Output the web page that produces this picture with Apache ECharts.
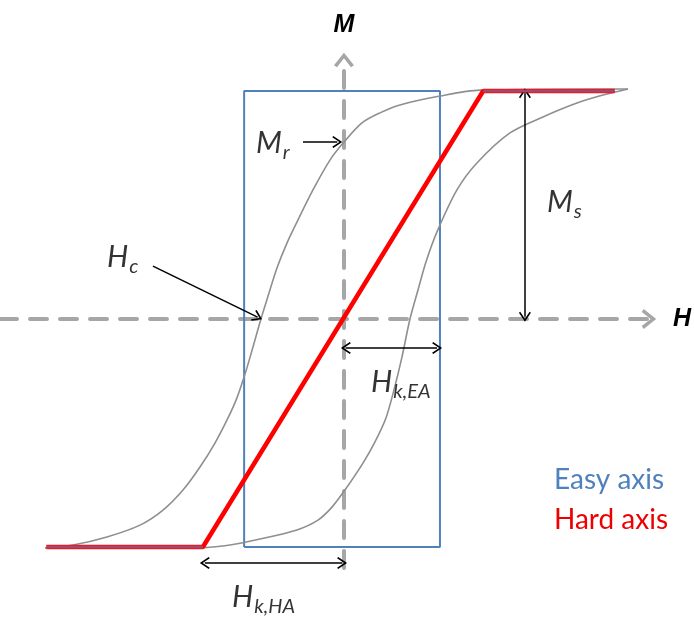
<!DOCTYPE html>
<html>
<head>
<meta charset="utf-8" />
<script src="https://cdn.jsdelivr.net/npm/echarts@6/dist/echarts.min.js"></script>
<style type="text/css">
	html, body, #main {
	width: 100%;
	height: 100%;
	margin: 0;
	background: #fff;
}
</style>
</head>
<body>
<div id="main"></div>
<script>
// H in units of Hk,EA ; M in units of Ms
var easyH = [-1.04, -1.04, 1.0, 1.0, -1.04];
var easyM = [-1, 1, 1, -1, -1];

var hardH = [-3.1, -1.47, 1.45, 2.82];
var hardM = [-1, -1, 1, 1];

// branch coming down from +Ms (passes Mr and -Hc)
var upperH = [-3.115, -2.823, -2.469, -2.125, -1.885, -1.677, -1.5, -1.344, -1.208, -1.115, -1.021, -0.948, -0.865, -0.781, -0.698, -0.594, -0.49, -0.323, -0.146, 0, 0.1875, 0.375, 0.583, 1.0, 1.417, 2.958];
var upperM = [-1.004, -0.991, -0.956, -0.904, -0.838, -0.75, -0.649, -0.544, -0.434, -0.346, -0.228, -0.123, 0, 0.114, 0.224, 0.333, 0.425, 0.566, 0.697, 0.776, 0.86, 0.904, 0.939, 0.978, 1.004, 1.009];

// branch going up from -Ms
var lowerH = [-1.5, -1.1875, -0.875, -0.49, -0.271, -0.125, 0.01, 0.198, 0.323, 0.4375, 0.521, 0.604, 0.6875, 0.771, 0.854, 0.969, 1.177, 1.385, 1.729, 2.073, 2.427, 2.698, 2.958];
var lowerM = [-1.004, -0.991, -0.965, -0.925, -0.882, -0.825, -0.75, -0.632, -0.539, -0.434, -0.311, -0.167, 0, 0.127, 0.25, 0.382, 0.566, 0.684, 0.816, 0.886, 0.947, 0.982, 1.009];

// annotation arrows: [H1, M1, H2, M2, double-headed]
var arrows = [
	[-0.427, 0.776, -0.07, 0.776, false],   // Mr
	[-1.99, 0.232, -0.9, 0.008, false],     // Hc
	[1.885, 0.01, 1.885, 0.99, true],       // Ms
	[0.02, -0.127, 0.97, -0.127, true],     // Hk,EA
	[-1.45, -1.07, -0.02, -1.07, true]      // Hk,HA
];

var labelText = ['{a|M}{b|r}', '{a|H}{b|c}', '{a|M}{b|s}', '{a|H}{b|k,EA}', '{a|H}{b|k,HA}'];
var labelH = [-0.917, -2.469, 2.115, 0.281, -1.167];
var labelM = [0.772, 0.272, 0.513, -0.276, -1.219];

// layout (pixels)
var OX = 344, OY = 319, UX = 96, UY = 228;
var G_LEFT = 0, G_RIGHT = 649, G_TOP = 60, G_BOTTOM = 568;

function pairs(xs, ys) {
	return xs.map(function (x, i) { return [x, ys[i]]; });
}

var bigChevron = 'path://M10,0 L20,12.5 L17,14.5 L10,5.5 L3,14.5 L0,12.5 Z';
var smallChevron = 'path://M6,0 L12,8 L10.7,9 L6,2.6 L1.3,9 L0,8 Z';

var axisStyle = {
	show: true,
	symbol: ['none', bigChevron],
	symbolSize: [20, 15],
	lineStyle: { color: '#a6a6a6', width: 4, type: [17, 13] }
};

var markData = arrows.map(function (a) {
	return [
		{ coord: [a[0], a[1]], symbol: a[4] ? smallChevron : 'none', symbolSize: [12, 10] },
		{ coord: [a[2], a[3]], symbol: smallChevron, symbolSize: [12, 10] }
	];
});

var satData = [[hardH[0], hardM[0]], [hardH[1], hardM[1]], ['-', '-'], [hardH[2], hardM[2]], [hardH[3], hardM[3]]];

var chart = echarts.init(document.getElementById('main'));

var option = {
	animation: false,
	grid: { left: G_LEFT, right: 694 - G_RIGHT, top: G_TOP, bottom: 622 - G_BOTTOM },
	legend: {
		orient: 'vertical',
		left: 544,
		top: 461,
		itemWidth: 0,
		itemHeight: 0,
		itemGap: 12,
		selectedMode: false,
		textStyle: { fontFamily: 'Lato', fontSize: 28 },
		data: [
			{ name: 'Easy axis', icon: 'none', textStyle: { color: '#4f81bd' } },
			{ name: 'Hard axis', icon: 'none', textStyle: { color: '#ee0000' } }
		]
	},
	xAxis: {
		type: 'value',
		min: (G_LEFT - OX) / UX,
		max: (G_RIGHT - OX) / UX,
		name: 'H',
		nameLocation: 'end',
		nameGap: 24,
		nameTextStyle: { fontFamily: 'Liberation Sans', fontWeight: 'bold', fontStyle: 'italic', fontSize: 25, color: '#000' },
		axisLine: axisStyle,
		axisTick: { show: false },
		axisLabel: { show: false },
		splitLine: { show: false }
	},
	yAxis: {
		type: 'value',
		min: -(G_BOTTOM - OY) / UY,
		max: (OY - G_TOP) / UY,
		name: 'M',
		nameLocation: 'end',
		nameGap: 22,
		nameTextStyle: { fontFamily: 'Liberation Sans', fontWeight: 'bold', fontStyle: 'italic', fontSize: 25, color: '#000' },
		axisLine: axisStyle,
		axisTick: { show: false },
		axisLabel: { show: false },
		splitLine: { show: false }
	},
	series: [
		{
			name: 'Easy axis',
			type: 'line',
			data: pairs(easyH, easyM),
			showSymbol: false,
			color: '#4f81bd',
			lineStyle: { color: '#4f81bd', width: 2 },
			z: 2
		},
		{
			name: 'loop down',
			type: 'line',
			data: pairs(upperH, upperM),
			smooth: 0.3,
			showSymbol: false,
			lineStyle: { color: '#8f8f8f', width: 1.6 },
			z: 3
		},
		{
			name: 'loop up',
			type: 'line',
			data: pairs(lowerH, lowerM),
			smooth: 0.3,
			showSymbol: false,
			lineStyle: { color: '#8f8f8f', width: 1.6 },
			z: 3
		},
		{
			name: 'Hard axis',
			type: 'line',
			data: pairs(hardH, hardM),
			showSymbol: false,
			color: '#ff0000',
			lineStyle: { color: '#ff0000', width: 4.5 },
			z: 4
		},
		{
			name: 'saturation',
			type: 'line',
			data: satData,
			showSymbol: false,
			connectNulls: false,
			lineStyle: { color: '#a8466a', width: 3 },
			z: 5
		},
		{
			name: 'arrows',
			type: 'line',
			data: [],
			markLine: {
				silent: true,
				animation: false,
				label: { show: false },
				lineStyle: { color: '#000', width: 1.5, type: 'solid' },
				emphasis: { disabled: true },
				data: markData
			},
			z: 6
		},
		{
			name: 'labels',
			type: 'scatter',
			symbolSize: 0,
			clip: false,
			silent: true,
			data: labelH.map(function (h, i) {
				return { value: [h, labelM[i]], label: { formatter: labelText[i] } };
			}),
			label: {
				show: true,
				position: [0, 0],
				align: 'left',
				verticalAlign: 'middle',
				rich: {
					a: { fontFamily: 'Lato', fontStyle: 'italic', fontSize: 30, color: '#000' },
					b: { fontFamily: 'Lato', fontStyle: 'italic', fontSize: 20, color: '#000', padding: [20, 0, 0, 1] }
				}
			},
			z: 7
		}
	]
};

chart.setOption(option);

window.onresize = function () {
	chart.resize();
};
</script>
</body>
</html>
